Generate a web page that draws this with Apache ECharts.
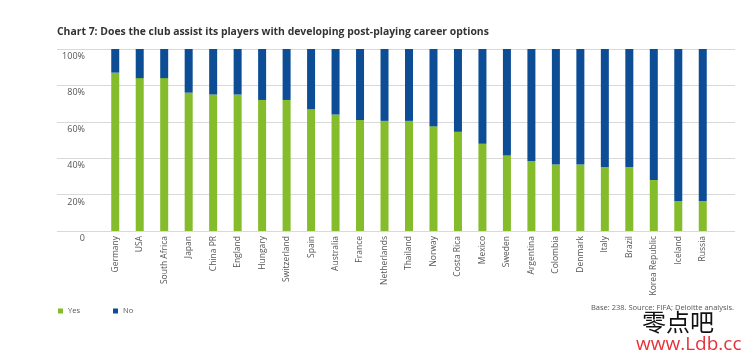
<!DOCTYPE html>
<html><head><meta charset="utf-8">
<script src="https://cdn.jsdelivr.net/npm/echarts@6/dist/echarts.min.js"></script>
<style>html,body{margin:0;padding:0;background:#fff}#c{width:750px;height:356px}</style>
</head><body><div id="c"></div>
<script>
const categories = ["Germany","USA","South Africa","Japan","China PR","England","Hungary","Switzerland","Spain","Australia","France","Netherlands","Thailand","Norway","Costa Rica","Mexico","Sweden","Argentina","Colombia","Denmark","Italy","Brazil","Korea Republic","Iceland","Russia"];
const yesValues = [87,84,84,76,75,75,72,72,67,64,61,60.5,60.5,57.5,54.5,48,41.5,38.5,36.5,36.5,35,35,28,16.5,16.5];
const noValues = yesValues.map(v => +(100 - v).toFixed(1));
const yTicks = [0,20,40,60,80,100];
const titleText = "Chart 7: Does the club assist its players with developing post-playing career options";
const sourceText = "Base: 238. Source: FIFA; Deloitte analysis.";

const GREEN = '#84bc2b', BLUE = '#0c4d96';
const chart = echarts.init(document.getElementById('c'));
const font = "'Open Sans', sans-serif";
chart.setOption({
  animation: false,
  textStyle: {fontFamily: font},
  grid: [
    {left: 57, right: 15, top: 49, bottom: 125},
    {left: 103, right: 35, top: 49, bottom: 125}
  ],
  xAxis: [
    {gridIndex: 0, type: 'value', show: false, min: 0, max: 1},
    {gridIndex: 1, type: 'category', data: categories,
     axisLine: {show: false}, axisTick: {show: false},
     axisLabel: {rotate: 90, interval: 0, fontSize: 8.5, color: '#555', margin: 5, fontFamily: font}}
  ],
  yAxis: [
    {gridIndex: 0, type: 'value', min: 0, max: 100, interval: 20,
     axisLine: {show: false}, axisTick: {show: false},
     splitLine: {lineStyle: {color: '#d9d9d9', width: 1}},
     axisLabel: {margin: -28, align: 'right', verticalAlign: 'top', padding: [3,0,0,0],
       fontSize: 9, color: '#555', fontFamily: font,
       formatter: v => yTicks.includes(v) ? (v === 0 ? '0' : v + '%') : ''}},
    {gridIndex: 1, type: 'value', min: 0, max: 100, show: false}
  ],
  series: [
    {name: 'Yes', type: 'bar', stack: 's', xAxisIndex: 1, yAxisIndex: 1, data: yesValues,
     barWidth: 8, itemStyle: {color: GREEN}},
    {name: 'No', type: 'bar', stack: 's', xAxisIndex: 1, yAxisIndex: 1, data: noValues,
     barWidth: 8, itemStyle: {color: BLUE}}
  ],
  legend: {left: 53, top: 302, itemWidth: 5, itemHeight: 5, itemGap: 33, icon: 'rect',
    textStyle: {fontSize: 7.5, color: '#555', fontFamily: font},
    data: ['Yes', 'No']},
  title: {text: titleText, left: 52, top: 22,
    textStyle: {fontSize: 10.4, fontWeight: 'bold', color: '#333', fontFamily: font}},
  graphic: [
    {type: 'text', right: 16, top: 304, style: {text: sourceText, fontSize: 7.5, fill: '#555', fontFamily: font}},
    {type: 'text', left: 642, top: 310, style: {text: '零点吧', fontSize: 24, fill: '#111', fontFamily: "'Noto Sans CJK SC'"}},
    {type: 'text', left: 636, top: 335, style: {text: 'www.Ldb.cc', fontSize: 19, fill: '#e8323a', fontFamily: "'Open Sans', sans-serif"}}
  ]
});
</script></body></html>
